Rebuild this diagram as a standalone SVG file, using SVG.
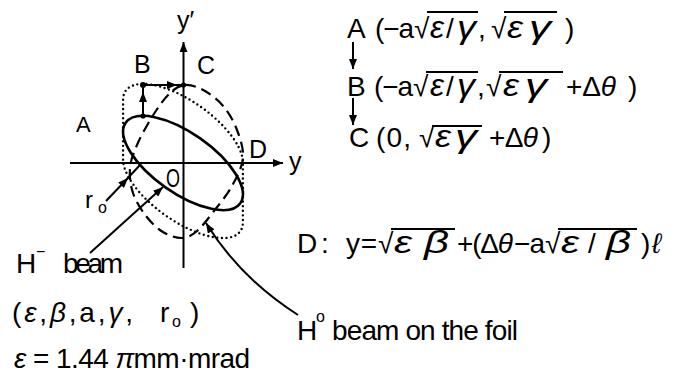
<svg xmlns="http://www.w3.org/2000/svg" width="677" height="381" viewBox="0 0 677 381">
<style>
text{font-family:"Liberation Sans",Arial,sans-serif;fill:#000;font-size:28px}
.l{font-size:25px}
.s{font-size:16px}
.g{font-style:italic}
.G{font-style:italic;font-size:31px}
.ax{stroke:#000;stroke-width:2;fill:none}
.sol{stroke:#000;stroke-width:2.6;fill:none}
.dash{stroke:#000;stroke-width:2.2;fill:none;stroke-dasharray:11 6}
.dot{stroke:#000;stroke-width:2.4;fill:none;stroke-dasharray:0 4.6;stroke-linecap:round}
.ov{stroke:#000;stroke-width:1.8}
.ln{stroke:#000;stroke-width:2;fill:none}
</style>
<defs>
<marker id="ah" viewBox="0 0 10 8" refX="10" refY="4" markerWidth="10" markerHeight="8" markerUnits="userSpaceOnUse" orient="auto"><path d="M0,0 L10,4 L0,8 Z" fill="#000"/></marker>
</defs>
<rect width="677" height="381" fill="#fff"/>

<g id="axes">
<line class="ax" x1="70" y1="163" x2="283" y2="163" marker-end="url(#ah)"/>
<line class="ax" x1="183.5" y1="268" x2="183.5" y2="42" marker-end="url(#ah)"/>
<text class="l" x="289" y="170">y</text>
<text class="l" x="177" y="29">y′</text>
<text class="l" x="166" y="187" textLength="14" lengthAdjust="spacingAndGlyphs">O</text>
</g>

<g id="hminus-ellipse">
<ellipse class="sol" cx="183" cy="163" rx="70" ry="30" transform="rotate(35 183 163)"/>
</g>
<g id="swept-ellipse">
<path class="dot" d="M123.1,99.6 A70,30 35 0 1 242.9,162.4 L242.9,222.4 A70,30 35 0 1 123.1,159.6 Z"/>
</g>
<g id="h0-ellipse">
<path class="dash" d="M185,85 C191,84.5 198.5,87.3 205,91 C211.5,94.7 218.7,100.5 224,107 C229.3,113.5 233.8,121.5 237,130 C240.2,138.5 243.8,148.7 243,158 C242.2,167.3 236.8,177.2 232,186 C227.2,194.8 219.8,203.5 214,211 C208.2,218.5 202.3,226.5 197,231 C191.7,235.5 187.7,237.8 182,238 C176.3,238.2 169,235.7 163,232 C157,228.3 151,222.5 146,216 C141,209.5 135.7,201 133,193 C130.3,185 129.3,176 130,168 C130.7,160 133.3,153.5 137,145 C140.7,136.5 146.7,125.5 152,117 C157.3,108.5 163.5,99.3 169,94 C174.5,88.7 179,85.5 185,85 Z"/>
</g>

<g id="point-A">
<circle cx="143" cy="116" r="2.6"/>
<text x="76" y="132" style="font-size:22px">A</text>
</g>
<g id="point-B">
<circle cx="143" cy="85" r="3"/>
<text class="l" x="134" y="73">B</text>
</g>
<g id="point-C">
<circle cx="183.5" cy="85" r="2.6"/>
<text class="l" x="197" y="74">C</text>
</g>
<g id="point-D">
<text class="l" x="249" y="158">D</text>
</g>
<g id="label-r0">
<text x="85" y="208" style="font-size:24px">r</text>
<text class="s" x="98" y="213">o</text>
</g>

<g id="connectors">
<line class="ln" x1="143" y1="116" x2="143" y2="92" marker-end="url(#ah)"/>
<line class="ln" x1="143" y1="93" x2="143" y2="85"/>
<line class="ln" x1="143" y1="85" x2="177" y2="85" marker-end="url(#ah)"/>
<line class="ln" x1="176" y1="85" x2="183.5" y2="85"/>
<line class="ln" x1="106" y1="201" x2="128" y2="178" marker-end="url(#ah)"/>
<line class="ln" x1="127" y1="179" x2="140" y2="165"/>
<line class="ln" x1="90" y1="253" x2="163" y2="187" marker-end="url(#ah)"/>
<path class="ln" d="M298,315 Q240,278 206,223" marker-end="url(#ah)"/>
<line class="ln" x1="353" y1="42" x2="353" y2="69" marker-end="url(#ah)"/>
<line class="ln" x1="353" y1="98" x2="353" y2="125" marker-end="url(#ah)"/>
</g>

<g id="eq-A">
<text x="347" y="38">A</text>
<text x="375" y="38" textLength="39" lengthAdjust="spacing">(−a</text>
<text x="414" y="38">√</text>
<text x="430" y="38" class="G" textLength="14" lengthAdjust="spacingAndGlyphs">ε</text>
<text x="446" y="38">/</text>
<text x="457" y="38" class="G" textLength="19" lengthAdjust="spacingAndGlyphs">γ</text>
<text x="478" y="38">,</text>
<text x="491" y="38">√</text>
<text x="507" y="38" class="G" textLength="16" lengthAdjust="spacingAndGlyphs">ε</text>
<text x="529" y="38" class="G" textLength="22" lengthAdjust="spacingAndGlyphs">γ</text>
<text x="565" y="38">)</text>
<line class="ov" x1="427" y1="12" x2="478" y2="12"/>
<line class="ov" x1="504" y1="12" x2="557" y2="12"/>
</g>

<g id="eq-B">
<text x="347" y="96">B</text>
<text x="374" y="96" textLength="39" lengthAdjust="spacing">(−a</text>
<text x="413" y="96">√</text>
<text x="430" y="96" class="G" textLength="14" lengthAdjust="spacingAndGlyphs">ε</text>
<text x="446" y="96">/</text>
<text x="457" y="96" class="G" textLength="18" lengthAdjust="spacingAndGlyphs">γ</text>
<text x="477" y="96">,</text>
<text x="486" y="96">√</text>
<text x="503" y="96" class="G" textLength="16" lengthAdjust="spacingAndGlyphs">ε</text>
<text x="525" y="96" class="G" textLength="22" lengthAdjust="spacingAndGlyphs">γ</text>
<text x="566" y="96" textLength="50" lengthAdjust="spacing">+Δ<tspan class="g">θ</tspan></text>
<text x="628" y="96">)</text>
<line class="ov" x1="426" y1="72" x2="478" y2="72"/>
<line class="ov" x1="499" y1="72" x2="563" y2="72"/>
</g>

<g id="eq-C">
<text x="349" y="147">C</text>
<text x="376" y="147" textLength="35" lengthAdjust="spacing">(0,</text>
<text x="419" y="147">√</text>
<text x="435" y="147" class="G" textLength="16" lengthAdjust="spacingAndGlyphs">ε</text>
<text x="455" y="147" class="G" textLength="22" lengthAdjust="spacingAndGlyphs">γ</text>
<text x="489" y="147" textLength="49" lengthAdjust="spacing">+Δ<tspan class="g">θ</tspan></text>
<text x="542" y="147">)</text>
<line class="ov" x1="432" y1="126" x2="482" y2="126"/>
</g>

<g id="eq-D">
<text x="297" y="253">D</text>
<text x="321" y="253">:</text>
<text x="346" y="253" textLength="31" lengthAdjust="spacing">y=</text>
<text x="378" y="253">√</text>
<text x="394" y="253" class="G" textLength="18" lengthAdjust="spacingAndGlyphs">ε</text>
<text x="424" y="253" class="G" textLength="25" lengthAdjust="spacingAndGlyphs">β</text>
<text x="457" y="253" textLength="56" lengthAdjust="spacing">+(Δ<tspan class="g">θ</tspan></text>
<text x="514" y="253" textLength="31" lengthAdjust="spacing">−a</text>
<text x="545" y="253">√</text>
<text x="561" y="253" class="G" textLength="18" lengthAdjust="spacingAndGlyphs">ε</text>
<text x="588" y="253">/</text>
<text x="606" y="253" class="G" textLength="25" lengthAdjust="spacingAndGlyphs">β</text>
<text x="641" y="253">)</text>
<text x="652" y="253" class="g">ℓ</text>
<line class="ov" x1="391" y1="229" x2="455" y2="229"/>
<line class="ov" x1="558" y1="229" x2="637" y2="229"/>
</g>

<g id="label-h0">
<text x="297" y="340">H</text>
<text class="s" x="316" y="322">o</text>
<text x="332" y="340" textLength="186" lengthAdjust="spacing">beam on the foil</text>
</g>

<g id="label-hminus">
<text x="16" y="273">H</text>
<text class="s" x="36" y="257">−</text>
<text x="63" y="273" textLength="60" lengthAdjust="spacing">beam</text>
<text x="12" y="322" textLength="121" lengthAdjust="spacing">(<tspan class="g">ε</tspan>,<tspan class="g">β</tspan>,a,<tspan class="g">γ</tspan>,</text>
<text x="160" y="322">r</text>
<text class="s" x="172" y="327">o</text>
<text x="190" y="322">)</text>
<text x="14" y="368" textLength="236" lengthAdjust="spacing"><tspan class="g">ε</tspan> = 1.44 <tspan class="g">π</tspan>mm·mrad</text>
</g>
</svg>
